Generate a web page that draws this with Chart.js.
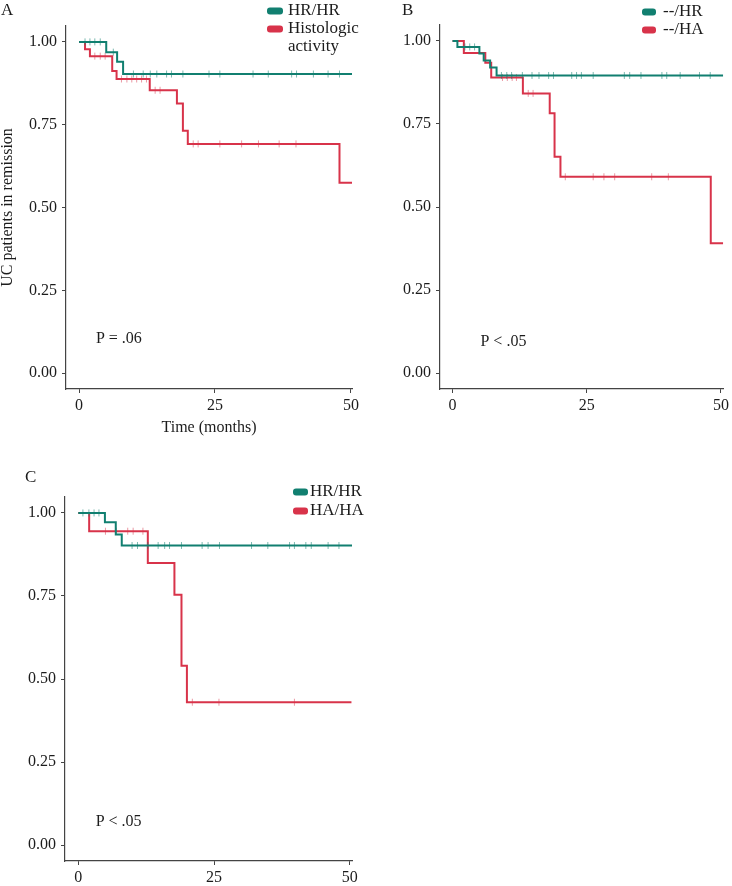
<!DOCTYPE html>
<html lang="en">
<head>
<meta charset="UTF-8">
<title>UC patients in remission</title>
<script src="https://cdn.jsdelivr.net/npm/chart.js"></script>
<style>
  body{margin:0;background:#fff;width:732px;height:886px;position:relative;overflow:hidden;}
  canvas{position:absolute;}
</style>
</head>
<body>
<canvas id="chartA" width="366" height="440" style="left:0;top:0"></canvas>
<canvas id="chartB" width="358" height="420" style="left:374px;top:0"></canvas>
<canvas id="chartC" width="366" height="426" style="left:0;top:460px"></canvas>
<script>
// tick labels
const xTicks = [0, 25, 50];
const yTicks = [0, 0.25, 0.5, 0.75, 1];

// panel A : HR/HR vs histologic activity
const namesA = ['HR/HR', 'Histologic activity'];
const timeA1 = [0, 5.0, 7.0, 8.1, 50.2];
const survA1 = [1, 0.969, 0.940, 0.903, 0.903];
const censA1 = [1.1, 2.0, 2.9, 3.9, 6.3, 10.0, 11.8, 13.1, 14.3, 16.1, 17.0, 19.1, 23.9, 25.9, 32.0, 34.8, 39.1, 40.0, 43.1, 45.8, 47.9];
const timeA2 = [0, 1.1, 2.0, 6.1, 6.9, 13.0, 18.0, 19.1, 20.0, 47.9, 50.2];
const survA2 = [1, 0.978, 0.957, 0.912, 0.888, 0.854, 0.814, 0.732, 0.692, 0.575, 0.575];
const censA2 = [2.9, 3.9, 4.8, 7.8, 8.8, 9.7, 10.6, 11.5, 12.4, 14.0, 14.9, 21.0, 21.9, 25.9, 29.9, 33.0, 36.8, 39.9];

// panel B : --/HR vs --/HA
const namesB = ['--/HR', '--/HA'];
const timeB1 = [0, 0.9, 5.0, 5.8, 7.0, 8.2, 50.4];
const survB1 = [1, 0.982, 0.962, 0.941, 0.920, 0.896, 0.896];
const censB1 = [2.3, 3.2, 4.1, 9.1, 10.1, 11.0, 13.0, 14.8, 16.1, 17.9, 18.8, 22.2, 23.1, 24.0, 26.2, 32.0, 33.0, 35.1, 39.0, 39.9, 42.4, 46.0, 48.0];
const timeB2 = [0, 2.1, 6.1, 7.2, 13.1, 18.1, 19.0, 20.1, 48.1, 50.4];
const survB2 = [1, 0.964, 0.934, 0.890, 0.842, 0.782, 0.651, 0.591, 0.391, 0.391];
const censB2 = [9.3, 10.2, 11.1, 11.9, 14.1, 15.0, 21.0, 26.2, 28.2, 30.2, 37.1, 40.2];

// panel C : HR/HR vs HA/HA
const namesC = ['HR/HR', 'HA/HA'];
const timeC1 = [0, 4.9, 6.9, 8.0, 50.4];
const survC1 = [1, 0.972, 0.935, 0.902, 0.902];
const censC1 = [0.85, 1.95, 2.9, 3.8, 9.9, 10.9, 12.8, 14.7, 15.9, 16.8, 19.0, 22.8, 23.9, 26.0, 31.9, 34.9, 38.9, 39.8, 41.9, 42.9, 46.0, 48.0];
const timeC2 = [0, 2.0, 12.8, 17.7, 19.0, 20.0, 50.3];
const survC2 = [1, 0.945, 0.849, 0.754, 0.540, 0.430, 0.430];
const censC2 = [5.0, 7.0, 9.1, 10.1, 11.9, 21.0, 25.9, 39.8];

const GREEN = '#117f70';
const RED = '#d8334a';
const FONT = '"Liberation Serif", "DejaVu Serif", serif';
const INK = '#1c1c1c';

// survival value in effect at time t
function survAt(times, surv, t) {
  let v = surv[0];
  for (let i = 0; i < times.length; i++) if (times[i] <= t) v = surv[i];
  return v;
}

function curveSets(times, surv, cens, color, faded) {
  return [
    {
      type: 'line',
      data: times.map((t, i) => ({x: t, y: surv[i]})),
      borderColor: color, borderWidth: 2, stepped: true,
      pointRadius: 0, fill: false
    },
    {
      type: 'scatter',
      data: cens.map(t => ({x: t, y: survAt(times, surv, t)})),
      pointStyle: 'line', rotation: 90, pointRadius: 3.5,
      borderColor: faded, borderWidth: 1, backgroundColor: faded
    }
  ];
}

const panelText = {
  id: 'panelText',
  afterDraw(chart, args, o) {
    const ctx = chart.ctx;
    ctx.save();
    ctx.textBaseline = 'middle';
    ctx.textAlign = 'left';
    ctx.fillStyle = INK;
    ctx.font = '17px ' + FONT;
    ctx.fillText(o.letter, o.letterX, o.letterY);
    ctx.font = '16px ' + FONT;
    ctx.fillText(o.pText, chart.scales.x.getPixelForValue(o.pAt[0]), chart.scales.y.getPixelForValue(o.pAt[1]));
    ctx.font = '17px ' + FONT;
    o.legend.forEach(item => {
      ctx.fillStyle = item.color;
      ctx.beginPath();
      ctx.roundRect(o.legX, item.y - 3.5, o.swW, 7, 3);
      ctx.fill();
      ctx.fillStyle = INK;
      const lines = Array.isArray(item.label) ? item.label : [item.label];
      lines.forEach((t, i) => ctx.fillText(t, o.legX + o.textGap, item.y + i * 18));
    });
    ctx.restore();
  }
};

function makeChart(id, sets, xr, yAxisW, xAxisH, pad, withTitles, textOpts) {
  const tickFont = {family: FONT, size: 16};
  new Chart(document.getElementById(id), {
    data: {datasets: sets},
    options: {
      responsive: false, animation: false,
      layout: {padding: pad},
      plugins: {legend: {display: false}, tooltip: {enabled: false}, panelText: textOpts},
      scales: {
        x: {
          type: 'linear', min: xr[0], max: xr[1],
          afterBuildTicks: s => { s.ticks = xTicks.map(v => ({value: v})); },
          afterFit: s => { s.height = xAxisH; },
          ticks: {color: INK, font: tickFont, padding: 3, autoSkip: false, maxRotation: 0},
          grid: {drawOnChartArea: false, drawTicks: true, tickLength: 4, color: '#444'},
          border: {color: '#444', width: 1.2},
          title: {display: withTitles, text: 'Time (months)', color: INK, font: tickFont, padding: {top: 0, bottom: 3}}
        },
        y: {
          type: 'linear', min: -0.048, max: 1.048,
          afterBuildTicks: s => { s.ticks = yTicks.map(v => ({value: v})); },
          afterFit: s => { s.width = yAxisW; },
          ticks: {color: INK, font: tickFont, padding: 5, autoSkip: false, callback: v => v.toFixed(2)},
          grid: {drawOnChartArea: false, drawTicks: true, tickLength: 4, color: '#444'},
          border: {color: '#444', width: 1.2},
          title: {display: withTitles, text: 'UC patients in remission', color: INK,
                  font: {family: FONT, size: 16, lineHeight: 1}, padding: 0}
        }
      }
    },
    plugins: [panelText]
  });
}

makeChart('chartA',
  [...curveSets(timeA1, survA1, censA1, GREEN, 'rgba(17,127,112,0.55)'),
   ...curveSets(timeA2, survA2, censA2, RED, 'rgba(216,51,74,0.5)')],
  [-2.4, 50.2], 66, 51, {top: 26, right: 14, left: 0, bottom: 0}, true,
  {letter: 'A', letterX: 1, letterY: 11, pText: 'P = .06', pAt: [3.1, 0.103],
   legX: 267, swW: 16, textGap: 21,
   legend: [{label: namesA[0], color: GREEN, y: 11}, {label: ['Histologic', 'activity'], color: RED, y: 29}]});

makeChart('chartB',
  [...curveSets(timeB1, survB1, censB1, GREEN, 'rgba(17,127,112,0.55)'),
   ...curveSets(timeB2, survB2, censB2, RED, 'rgba(216,51,74,0.5)')],
  [-2.34, 50.45], 66, 31, {top: 25, right: 5, left: 0, bottom: 0}, false,
  {letter: 'B', letterX: 28, letterY: 11, pText: 'P < .05', pAt: [5.2, 0.094],
   legX: 268, swW: 14, textGap: 21,
   legend: [{label: namesB[0], color: GREEN, y: 12}, {label: namesB[1], color: RED, y: 30}]});

makeChart('chartC',
  [...curveSets(timeC1, survC1, censC1, GREEN, 'rgba(17,127,112,0.55)'),
   ...curveSets(timeC2, survC2, censC2, RED, 'rgba(216,51,74,0.5)')],
  [-2.45, 50.4], 65, 25, {top: 37, right: 14, left: 0, bottom: 0}, false,
  {letter: 'C', letterX: 25, letterY: 18, pText: 'P < .05', pAt: [3.2, 0.069],
   legX: 293, swW: 15, textGap: 17,
   legend: [{label: namesC[0], color: GREEN, y: 32}, {label: namesC[1], color: RED, y: 51}]});
</script>
</body>
</html>
